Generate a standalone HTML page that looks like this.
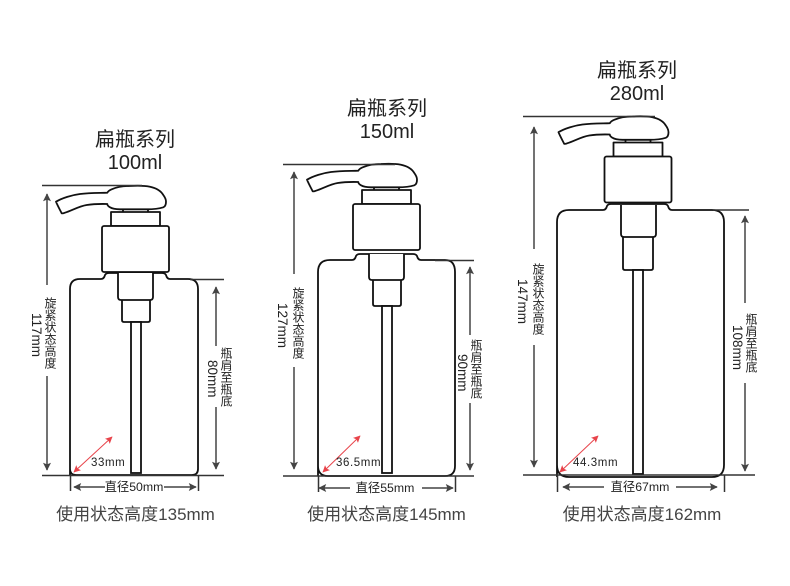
<!DOCTYPE html>
<html lang="zh">
<head>
<meta charset="utf-8">
<title>扁瓶系列</title>
<style>
html,body{margin:0;padding:0;background:#fff}
#w{position:relative;width:790px;height:586px;overflow:hidden;background:#fff;font-family:"Liberation Sans","Noto Sans CJK SC",sans-serif;color:#333}
svg{position:absolute;left:0;top:0}
.t,.b,.s{position:absolute;white-space:nowrap;text-align:center;transform:translateX(-50%)}
.t{font-size:20px;line-height:23px;color:#222}
.b{font-size:17px;line-height:20px;color:#444;top:505px}
.s{font-size:12.300px;line-height:14px;color:#222}
.v{position:absolute;writing-mode:vertical-rl;white-space:nowrap;text-align:center;font-size:12px;line-height:16px;width:16px;color:#222}
.m{font-size:13.500px}
.r{position:absolute;font-size:11.500px;line-height:14px;letter-spacing:.6px;color:#222;white-space:nowrap}
</style>
</head>
<body>
<div id="w">
<svg width="790" height="586" viewBox="0 0 790 586" xmlns="http://www.w3.org/2000/svg">
<defs>
<marker id="a" viewBox="0 0 10 10" refX="9" refY="5" markerWidth="9" markerHeight="8" orient="auto-start-reverse" markerUnits="userSpaceOnUse"><path d="M0 0L10 5L0 10L2 5Z" fill="#444"/></marker>
<marker id="ar" viewBox="0 0 10 10" refX="9" refY="5" markerWidth="7" markerHeight="7" orient="auto-start-reverse" markerUnits="userSpaceOnUse"><path d="M0 0L10 5L0 10L2 5Z" fill="#e8434a"/></marker>
<g id="pump" fill="#fff" stroke="#111" stroke-width="1.800" stroke-linejoin="round">
<path d="M56 201.700C62 198 72 195 80 194C90 192.800 100 193 107.300 192.700C108.500 190.500 110 190 111.700 189.300C118 186.500 124 186 130 186C137 185.600 144 185.600 150 186.700C156 188 161 191 163.300 195C165.500 198 166 200 166 201.700C166 204.500 165 206.500 163.300 207.300C158 209 152 209.300 146.700 209.300L120 209.300C115 209.300 112 208.600 110 207.300C108 206.200 107.300 205 107.300 204C100 203.800 93 204 86.700 205C79 206.200 72 210.500 65 212.700C63.500 213.300 62.500 213.600 61.700 213.300C59.800 209.500 57.500 205.500 56 201.700Z"/>
<path d="M123 209.300V212M148 209.300V212" fill="none"/>
<rect x="111" y="212" width="49" height="14"/>
<rect x="102" y="226" width="67" height="46" rx="2"/>
</g>
</defs>

<!-- bottle 1 -->
<path d="M70 475V289Q70 279 80 279H101Q104 279 105 275Q106 273 109 273H162Q165 273 166 275Q167 279 170 279H188Q198 279 198 289V469Q198 475 192 475H76Q70 475 70 469Z" fill="#fff" stroke="#111" stroke-width="1.800"/>
<g fill="#fff" stroke="#111" stroke-width="1.800">
<path d="M122 300V320Q122 322 124 322H148Q150 322 150 320V300"/>
<path d="M118 273V297Q118 300 121 300H150Q153 300 153 297V273"/>
<rect x="131" y="322" width="10" height="151"/>
</g>
<use href="#pump"/>

<!-- bottle 2 -->
<path d="M318 476V272Q318 260 330 260H352Q355 260 356 256Q357 254 360 254H413Q416 254 417 256Q418 260 421 260H445Q455 260 455 272V466Q455 476 445 476H328Q318 476 318 466Z" fill="#fff" stroke="#111" stroke-width="1.800"/>
<g fill="#fff" stroke="#111" stroke-width="1.800">
<path d="M373 280V304Q373 306 375 306H399Q401 306 401 304V280"/>
<path d="M369 254V277Q369 280 372 280H401Q404 280 404 277V254"/>
<rect x="382" y="306" width="10" height="167"/>
</g>
<use href="#pump" transform="translate(251 -22)"/>

<!-- bottle 3 -->
<path d="M557 477V222Q557 210 569 210H603Q606 210 607 206Q608 204 611 204H664Q667 204 668 206Q669 210 672 210H712Q724 210 724 222V465Q724 477 712 477H569Q557 477 557 465Z" fill="#fff" stroke="#111" stroke-width="1.800"/>
<g fill="#fff" stroke="#111" stroke-width="1.800">
<path d="M623 237V268Q623 270 625 270H651Q653 270 653 268V237"/>
<path d="M621 205V234Q621 237 624 237H653Q656 237 656 234V205"/>
<rect x="633" y="270" width="10" height="204"/>
</g>
<use href="#pump" transform="translate(502.500 -69.500)"/>

<!-- dimension lines -->
<g fill="none" stroke="#444" stroke-width="1.500">
<path d="M42 185.500H142M190 279.500H224M42 475.500H224M70.500 475V491M198.500 475V491" stroke="#333"/>
<path d="M47 285V194" marker-end="url(#a)"/>
<path d="M47 376V470" marker-end="url(#a)"/>
<path d="M216 346V287" marker-end="url(#a)"/>
<path d="M216 407V469" marker-end="url(#a)"/>
<path d="M105 487H74" marker-end="url(#a)"/>
<path d="M164 487H196" marker-end="url(#a)"/>

<path d="M283 164.500H395M435 260.500H474M283 476H474M318.500 476V492M455.500 476V492" stroke="#333"/>
<path d="M294 274V172" marker-end="url(#a)"/>
<path d="M294 367V469" marker-end="url(#a)"/>
<path d="M470 335V267" marker-end="url(#a)"/>
<path d="M470 403V470" marker-end="url(#a)"/>
<path d="M350 488H319" marker-end="url(#a)"/>
<path d="M422 488H453" marker-end="url(#a)"/>

<path d="M523 116.500H655M713 210H749M523 475H755M557.500 475V492M724.500 475V492" stroke="#333"/>
<path d="M534 249V127" marker-end="url(#a)"/>
<path d="M534 345V467" marker-end="url(#a)"/>
<path d="M745 303V216" marker-end="url(#a)"/>
<path d="M745 383V471" marker-end="url(#a)"/>
<path d="M604 487H563" marker-end="url(#a)"/>
<path d="M676 487H717" marker-end="url(#a)"/>
</g>

<!-- red arrows -->
<g fill="none" stroke="#e8434a" stroke-width="1">
<path d="M74 472L112 437" marker-start="url(#ar)" marker-end="url(#ar)"/>
<path d="M323 472L360 436" marker-start="url(#ar)" marker-end="url(#ar)"/>
<path d="M560 472L598 436" marker-start="url(#ar)" marker-end="url(#ar)"/>
</g>
</svg>

<div class="t" style="left:135px;top:129px">扁瓶系列</div>
<div class="t" style="left:135px;top:152px">100ml</div>
<div class="t" style="left:387px;top:98px">扁瓶系列</div>
<div class="t" style="left:387px;top:121px">150ml</div>
<div class="t" style="left:637px;top:60px">扁瓶系列</div>
<div class="t" style="left:637px;top:83px">280ml</div>

<div class="v" style="left:42px;top:297px">旋紧状态高度</div>
<div class="v m" style="left:28px;top:313px">117mm</div>
<div class="v" style="left:218px;top:347px">瓶肩至瓶底</div>
<div class="v m" style="left:204px;top:360px">80mm</div>

<div class="v" style="left:290px;top:287px">旋紧状态高度</div>
<div class="v m" style="left:274px;top:303px">127mm</div>
<div class="v" style="left:468px;top:339px">瓶肩至瓶底</div>
<div class="v m" style="left:454px;top:354px">90mm</div>

<div class="v" style="left:530px;top:263px">旋紧状态高度</div>
<div class="v m" style="left:514px;top:279px">147mm</div>
<div class="v" style="left:743px;top:313px">瓶肩至瓶底</div>
<div class="v m" style="left:729px;top:325px">108mm</div>

<div class="r" style="left:91px;top:456px">33mm</div>
<div class="r" style="left:336px;top:456px">36.5mm</div>
<div class="r" style="left:573px;top:456px">44.3mm</div>

<div class="s" style="left:134px;top:480px">直径50mm</div>
<div class="s" style="left:385px;top:481px">直径55mm</div>
<div class="s" style="left:640px;top:480px">直径67mm</div>

<div class="b" style="left:135.500px">使用状态高度135mm</div>
<div class="b" style="left:386.500px">使用状态高度145mm</div>
<div class="b" style="left:642px">使用状态高度162mm</div>
</div>
</body>
</html>
